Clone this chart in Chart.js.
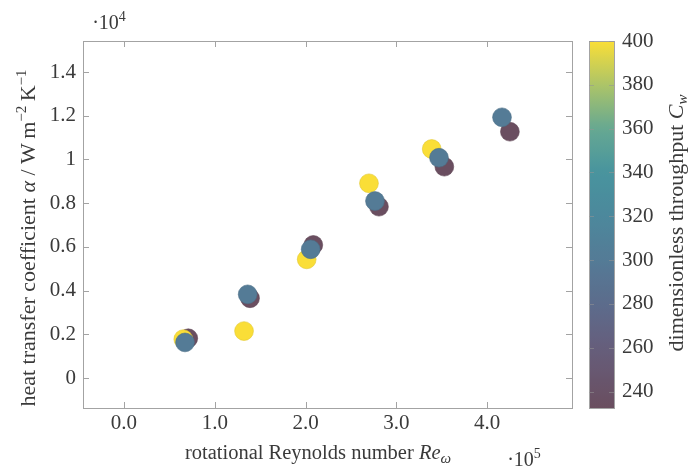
<!DOCTYPE html>
<html><head><meta charset="utf-8">
<script src="https://cdn.jsdelivr.net/npm/chart.js@4.4.1/dist/chart.umd.min.js"></script>
<style>html,body{margin:0;padding:0;background:#fff}</style>
</head><body>
<canvas id="c" width="688" height="466"></canvas>
<script>
// ---- data (x in units of 1e5, y in units of 1e4) ----
const xTicks = [0, 1, 2, 3, 4];
const xTickLabels = ['0.0', '1.0', '2.0', '3.0', '4.0'];
const yTicks = [0, 0.2, 0.4, 0.6, 0.8, 1, 1.2, 1.4];
const yTickLabels = ['0', '0.2', '0.4', '0.6', '0.8', '1', '1.2', '1.4'];
const cwTicks = [240, 260, 280, 300, 320, 340, 360, 380, 400];
const cwTickLabels = ['240', '260', '280', '300', '320', '340', '360', '380', '400'];

const cwSeries = [300, 400, 233];
const reCw300 = [0.672, 1.362, 2.056, 2.764, 3.469, 4.163];
const alphaCw300 = [0.163, 0.383, 0.589, 0.810, 1.008, 1.193];
const reCw400 = [0.653, 1.322, 2.012, 2.698, 3.389];
const alphaCw400 = [0.178, 0.215, 0.543, 0.891, 1.048];
const reCw233 = [0.708, 1.388, 2.085, 2.808, 3.528, 4.250];
const alphaCw233 = [0.182, 0.365, 0.609, 0.784, 0.967, 1.127];

// colormap stops
const cmapVals = [232.5, 260, 280, 300, 320, 340, 360, 380, 400];
const cmapCols = [[106,78,95],[102,94,124],[92,108,140],[84,123,150],[76,136,156],[72,148,158],[102,168,146],[172,196,104],[250,222,55]];
function cmap(v){
  if (v <= cmapVals[0]) return cmapCols[0];
  for (let i = 1; i < cmapVals.length; i++) {
    if (v <= cmapVals[i]) {
      const t = (v - cmapVals[i-1]) / (cmapVals[i] - cmapVals[i-1]);
      return cmapCols[i-1].map((c, k) => Math.round(c + t * (cmapCols[i][k] - c)));
    }
  }
  return cmapCols[cmapCols.length-1];
}
const rgb = c => `rgb(${c[0]},${c[1]},${c[2]})`;
const rgbd = c => `rgb(${Math.round(c[0]*0.9)},${Math.round(c[1]*0.9)},${Math.round(c[2]*0.9)})`;

const FONT = "'Liberation Serif','Times New Roman',serif";
const TXT = '#3a3a3a';
const AX = '#a3a3a3';

function pts(xs, ys){ return xs.map((x, i) => ({x, y: ys[i]})); }
function ds(xs, ys, cw){
  const c = cmap(cw);
  return {data: pts(xs, ys), backgroundColor: rgb(c), borderColor: rgbd(c), borderWidth: 0.6, pointRadius: 9.4, pointHoverRadius: 9.4};
}

function drawRich(ctx, parts, x, y){
  let w = 0;
  parts.forEach(p => { ctx.font = p.f; w += ctx.measureText(p.t).width; });
  let cx = x - w / 2;
  parts.forEach(p => { ctx.font = p.f; ctx.fillText(p.t, cx, y + (p.dy || 0)); cx += ctx.measureText(p.t).width; });
}

const decor = {
  id: 'decor',
  beforeDatasetsDraw(chart){
    const ctx = chart.ctx, a = chart.chartArea;
    const xs = chart.scales.x, ys = chart.scales.y;
    ctx.save();
    ctx.strokeStyle = AX; ctx.lineWidth = 1;
    ctx.strokeRect(a.left + 0.5, a.top + 0.5, a.right - a.left, a.bottom - a.top);
    ctx.beginPath();
    xTicks.forEach(v => {
      const px = Math.round(xs.getPixelForValue(v)) + 0.5;
      ctx.moveTo(px, a.bottom); ctx.lineTo(px, a.bottom - 6);
      ctx.moveTo(px, a.top); ctx.lineTo(px, a.top + 6);
    });
    yTicks.forEach(v => {
      const py = Math.round(ys.getPixelForValue(v)) + 0.5;
      ctx.moveTo(a.left, py); ctx.lineTo(a.left + 6, py);
      ctx.moveTo(a.right, py); ctx.lineTo(a.right - 6, py);
    });
    ctx.stroke();
    ctx.restore();
  },
  afterDraw(chart){
    const ctx = chart.ctx, a = chart.chartArea;
    const cs = chart.scales.cw;
    ctx.save();
    // colorbar
    const x0 = 589, x1 = 614;
    const top = cs.getPixelForValue(cs.max), bot = cs.getPixelForValue(cs.min);
    const g = ctx.createLinearGradient(0, bot, 0, top);
    for (let i = 0; i <= 40; i++) {
      const v = cs.min + (cs.max - cs.min) * i / 40;
      g.addColorStop(i / 40, rgb(cmap(v)));
    }
    ctx.fillStyle = g;
    ctx.fillRect(x0, top, x1 - x0, bot - top);
    ctx.strokeStyle = AX; ctx.lineWidth = 1;
    ctx.strokeRect(x0 + 0.5, top + 0.5, x1 - x0, bot - top);
    ctx.strokeStyle = 'rgba(150,150,150,0.55)';
    ctx.beginPath();
    cwTicks.forEach(v => {
      const py = Math.round(cs.getPixelForValue(v)) + 0.5;
      ctx.moveTo(x0, py); ctx.lineTo(x0 + 5, py);
      ctx.moveTo(x1, py); ctx.lineTo(x1 - 5, py);
    });
    ctx.stroke();
    // titles
    ctx.fillStyle = TXT;
    ctx.textBaseline = 'alphabetic';
    ctx.textAlign = 'left';
    const N = `20.5px ${FONT}`, I = `italic 20.5px ${FONT}`, S = `14px ${FONT}`, SI = `italic 15px ${FONT}`;
    drawRich(ctx, [{t: 'rotational Reynolds number ', f: N}, {t: 'Re', f: I}, {t: 'ω', f: SI, dy: 4}], 318, 459);
    drawRich(ctx, [{t: '·10', f: `20px ${FONT}`}, {t: '5', f: S, dy: -8}], 524, 466);
    drawRich(ctx, [{t: '·10', f: `20px ${FONT}`}, {t: '4', f: S, dy: -8}], 109, 29);
    const YN = `22px ${FONT}`, YI = `italic 22px ${FONT}`, YS = `15px ${FONT}`;
    ctx.save();
    ctx.translate(35, 238); ctx.rotate(-Math.PI / 2);
    drawRich(ctx, [{t: 'heat transfer coefficient ', f: YN}, {t: 'α', f: YI}, {t: ' / W\u2009m', f: YN}, {t: '−2', f: YS, dy: -9}, {t: '\u2009K', f: YN}, {t: '−1', f: YS, dy: -9}], 0, 0);
    ctx.restore();
    ctx.save();
    ctx.translate(683, 223); ctx.rotate(-Math.PI / 2);
    drawRich(ctx, [{t: 'dimensionless throughput ', f: `22px ${FONT}`}, {t: 'C', f: `italic 22px ${FONT}`}, {t: 'w', f: SI, dy: 4}], 0, 0);
    ctx.restore();
    ctx.restore();
  }
};

const noPadV = s => { s.paddingTop = 0; s.paddingBottom = 0; };
const noPadH = s => { s.paddingLeft = 0; s.paddingRight = 0; };
const TF = {family: FONT, size: 21};

new Chart(document.getElementById('c'), {
  type: 'scatter',
  data: {
    datasets: [
      ds(reCw300, alphaCw300, cwSeries[0]),
      ds(reCw400, alphaCw400, cwSeries[1]),
      ds(reCw233, alphaCw233, cwSeries[2])
    ]
  },
  options: {
    responsive: false,
    animation: false,
    devicePixelRatio: 1,
    layout: {padding: {top: 41, left: 0, right: 0, bottom: 0}},
    plugins: {legend: {display: false}, tooltip: {enabled: false}},
    scales: {
      x: {
        type: 'linear', position: 'bottom', min: -0.4515, max: 4.934,
        afterBuildTicks: s => { s.ticks = xTicks.map(v => ({value: v})); },
        afterFit: s => { s.height = 58; noPadH(s); },
        grid: {display: false, drawTicks: false}, border: {display: false},
        ticks: {callback: (v, i) => xTickLabels[i], font: TF, color: TXT, padding: 3, maxRotation: 0, autoSkip: false}
      },
      y: {
        type: 'linear', position: 'left', min: -0.137, max: 1.542,
        afterBuildTicks: s => { s.ticks = yTicks.map(v => ({value: v})); },
        afterFit: s => { s.width = 83; noPadV(s); },
        grid: {display: false, drawTicks: false}, border: {display: false},
        ticks: {callback: (v, i) => yTickLabels[i], font: TF, color: TXT, padding: 7, autoSkip: false}
      },
      cw: {
        type: 'linear', position: 'right', min: 232.5, max: 400,
        afterBuildTicks: s => { s.ticks = cwTicks.map(v => ({value: v})); },
        afterFit: s => { s.width = 116; noPadV(s); },
        grid: {display: false, drawTicks: false}, border: {display: false},
        ticks: {callback: (v, i) => cwTickLabels[i], font: TF, color: TXT, padding: 50, autoSkip: false}
      }
    }
  },
  plugins: [decor]
});
</script>
</body></html>
